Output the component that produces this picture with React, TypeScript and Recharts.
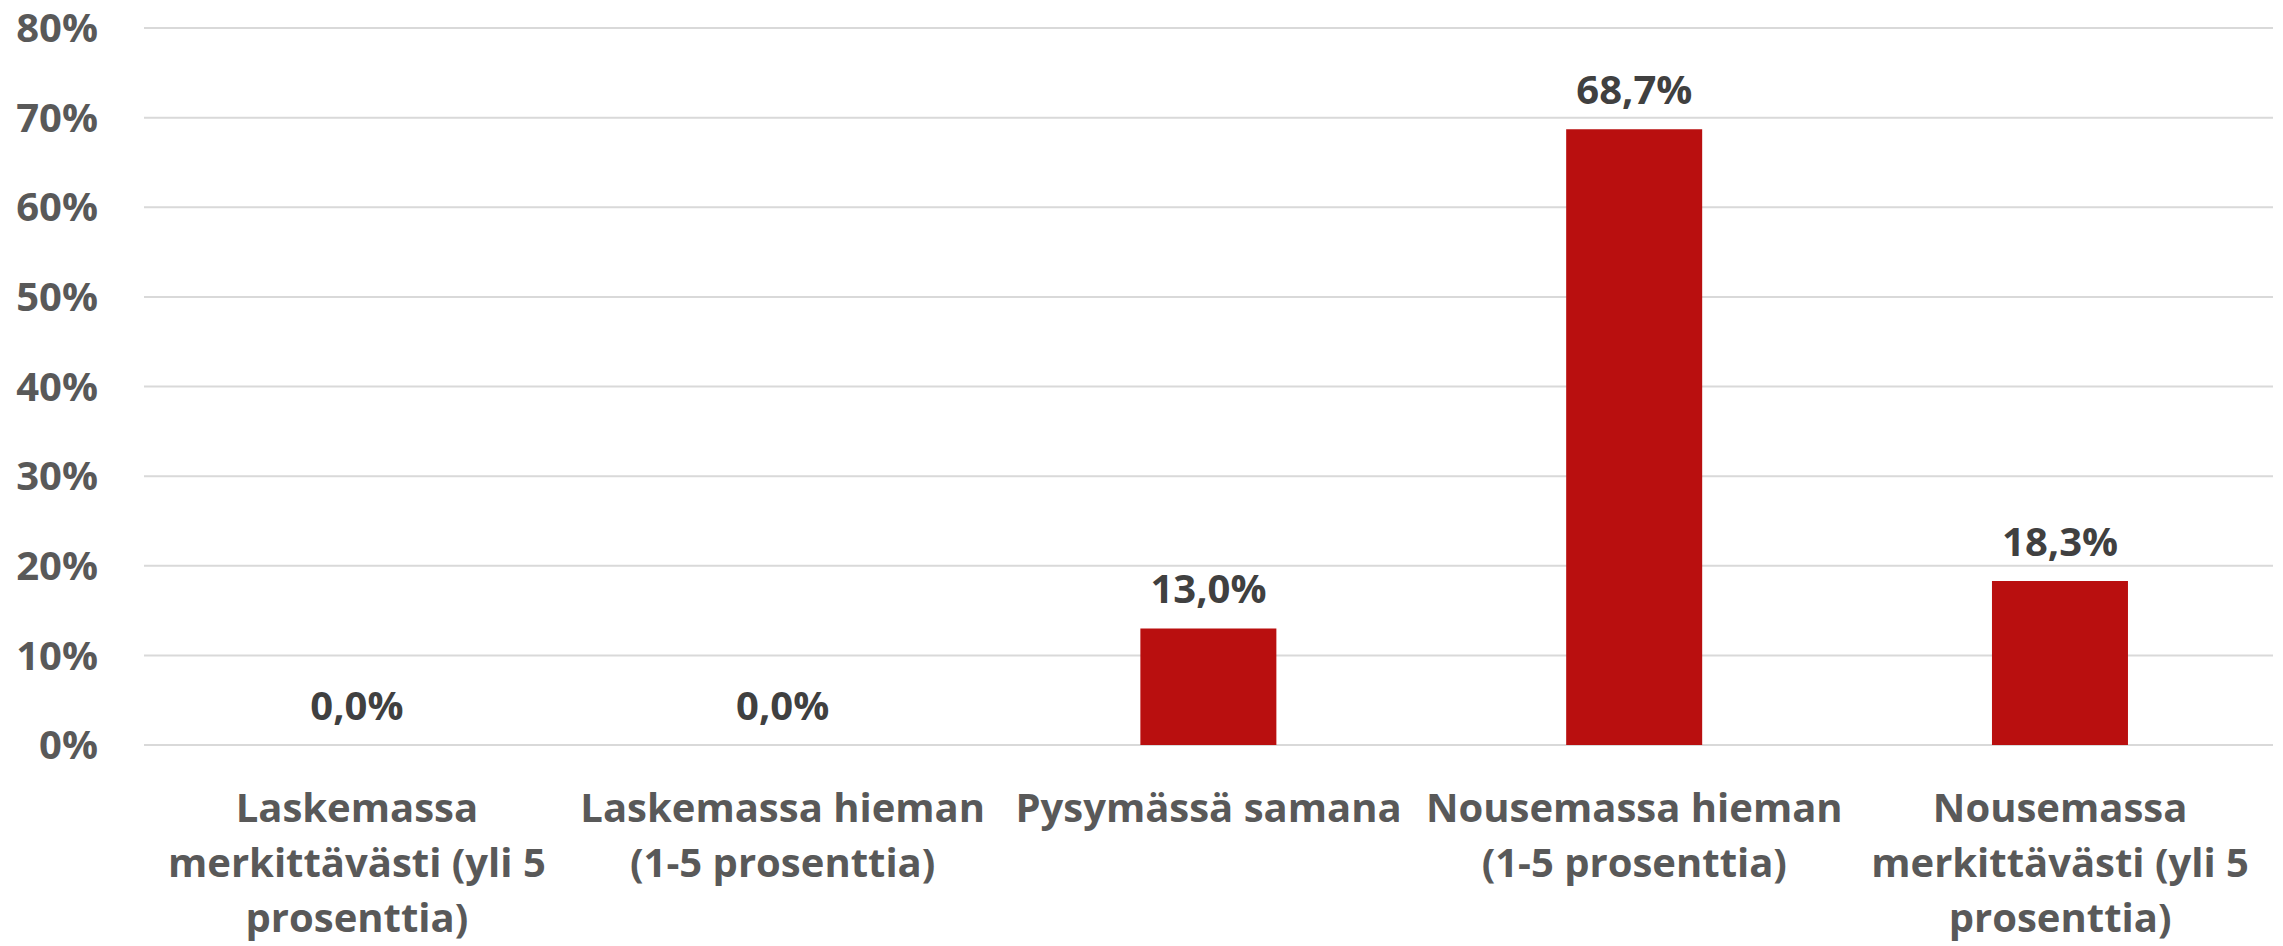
import React from "react";
import { ComposedChart, Bar, Line, XAxis, YAxis, CartesianGrid, LabelList } from "recharts";

const categories = [
  "Laskemassa merkittävästi (yli 5 prosenttia)",
  "Laskemassa hieman (1-5 prosenttia)",
  "Pysymässä samana",
  "Nousemassa hieman (1-5 prosenttia)",
  "Nousemassa merkittävästi (yli 5 prosenttia)",
];
const categoryLines = [
  ["Laskemassa", "merkittävästi (yli 5", "prosenttia)"],
  ["Laskemassa hieman", "(1-5 prosenttia)"],
  ["Pysymässä samana"],
  ["Nousemassa hieman", "(1-5 prosenttia)"],
  ["Nousemassa", "merkittävästi (yli 5", "prosenttia)"],
];
const values = [0.0, 0.0, 13.0, 68.7, 18.3];
const yTicks = [0, 10, 20, 30, 40, 50, 60, 70, 80];

const data = categories.map((c, i) => ({ name: c, value: values[i] }));

const FONT = "'Open Sans', sans-serif";

const XTick = (props: any) => {
  const { x, y, index } = props;
  const lines = categoryLines[index] || [];
  return (
    <g>
      {lines.map((l: string, i: number) => (
        <text
          key={i}
          x={x}
          y={y + 77 + i * 55}
          textAnchor="middle"
          fill="#595959"
          fontFamily={FONT}
          fontWeight={700}
          fontSize={40}
        >
          {l}
        </text>
      ))}
    </g>
  );
};

const fmt = (v: number) => v.toFixed(1).replace(".", ",") + "%";

export default function App() {
  return (
    <div style={{ position: "absolute", left: 0, top: 0, background: "#fff" }}>
      <ComposedChart
        width={2283}
        height={946}
        data={data}
        margin={{ top: 28, right: 10, left: 0, bottom: 0 }}
        barCategoryGap="34%"
      >
        <CartesianGrid vertical={false} stroke="#D9D9D9" strokeWidth={2} />
        <XAxis
          dataKey="name"
          axisLine={false}
          tickLine={false}
          tickSize={0}
          tickMargin={0}
          height={201}
          interval={0}
          tick={<XTick />}
        />
        <YAxis
          domain={[0, 80]}
          ticks={yTicks}
          axisLine={false}
          tickLine={false}
          tickSize={0}
          tickMargin={46}
          width={144}
          tickFormatter={(v: number) => `${v}%`}
          tick={{ fill: "#595959", fontFamily: FONT, fontWeight: 700, fontSize: 40 }}
        />
        <Bar dataKey="value" fill="#B90F0F" isAnimationActive={false} />
        <Line
          dataKey="value"
          stroke="none"
          dot={false}
          activeDot={false}
          isAnimationActive={false}
        >
          <LabelList
            dataKey="value"
            position="top"
            offset={25}
            formatter={(v: any) => fmt(Number(v))}
            fill="#404040"
            fontFamily={FONT}
            fontWeight={700}
            fontSize={40}
          />
        </Line>
      </ComposedChart>
    </div>
  );
}
